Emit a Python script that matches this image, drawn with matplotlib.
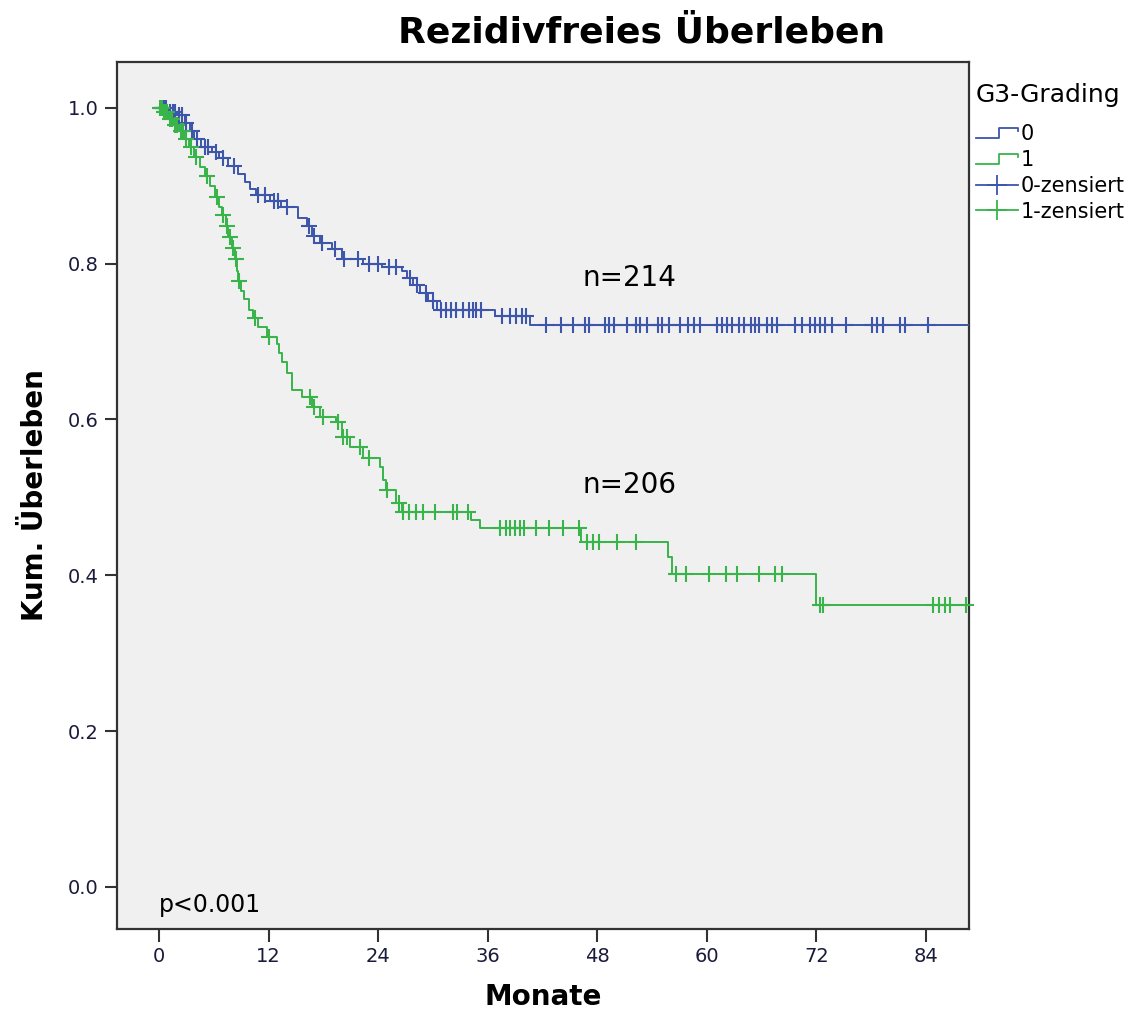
import matplotlib
matplotlib.use("Agg")
import matplotlib.pyplot as plt
from matplotlib.legend_handler import HandlerBase
from matplotlib.lines import Line2D
import numpy as np

# Kaplan-Meier steps (time in months, survival after the drop)
g0_event_t = [1.0, 2.0, 2.8, 3.4, 3.8, 4.6, 5.8, 6.6, 7.6, 8.6, 9.4, 10.0, 10.6, 12.2, 13.4,
              15.2, 16.2, 16.8, 17.6, 19.0, 20.0, 22.4, 24.4, 26.6, 27.2, 27.8, 28.6, 29.5,
              30.4, 36.8, 40.6]
g0_event_s = [0.995, 0.990, 0.980, 0.970, 0.960, 0.950, 0.943, 0.935, 0.925, 0.915, 0.905,
              0.895, 0.888, 0.880, 0.872, 0.858, 0.848, 0.835, 0.826, 0.818, 0.806, 0.800,
              0.795, 0.790, 0.781, 0.772, 0.762, 0.752, 0.741, 0.733, 0.721]
g0_censored = [0.2, 0.4, 0.6, 0.8, 1.2, 1.5, 1.8, 2.2, 2.5, 3.0, 3.6, 4.2, 5.0, 5.4, 6.2, 7.0,
               8.2, 10.8, 11.6, 12.6, 13.0, 14.0, 16.4, 17.0, 17.9, 19.3, 20.3, 21.8, 23.0,
               24.0, 25.2, 26.0, 27.5, 28.3, 29.2, 30.0, 30.9, 31.4, 32.0, 32.5, 33.3, 34.0,
               34.4, 34.7, 35.3, 37.6, 38.4, 39.1, 39.8, 40.2, 42.4, 44.0, 45.3, 46.7, 47.1,
               48.9, 49.3, 49.8, 51.3, 52.2, 52.7, 53.5, 54.7, 55.1, 55.9, 57.1, 57.9, 58.6,
               59.3, 61.1, 61.7, 62.2, 62.8, 63.5, 64.05, 64.8, 65.3, 65.7, 66.6, 67.1, 67.7,
               69.7, 70.4, 71.3, 71.9, 72.4, 73.0, 73.7, 75.3, 78.1, 78.6, 79.3, 81.2, 81.7,
               84.2]

g1_event_t = [0.5, 1.0, 1.6, 2.2, 2.8, 3.3, 3.8, 4.5, 5.0, 5.6, 6.1, 6.6, 6.9, 7.3, 7.6, 8.0,
              8.3, 8.5, 8.7, 9.0, 9.3, 9.9, 10.3, 10.8, 11.8, 12.9, 13.2, 13.5, 14.0, 14.6,
              15.7, 16.8, 17.6, 19.4, 20.1, 20.9, 22.3, 24.2, 24.5, 24.9, 26.0, 26.6, 34.2,
              35.2, 46.2, 55.8, 56.2, 72.0]
g1_event_s = [0.995, 0.985, 0.978, 0.970, 0.960, 0.950, 0.937, 0.924, 0.912, 0.900, 0.886,
              0.873, 0.862, 0.848, 0.834, 0.820, 0.806, 0.790, 0.778, 0.765, 0.754, 0.741,
              0.730, 0.718, 0.706, 0.697, 0.685, 0.673, 0.660, 0.638, 0.629, 0.616, 0.603,
              0.596, 0.578, 0.565, 0.551, 0.539, 0.522, 0.510, 0.493, 0.481, 0.471, 0.461,
              0.443, 0.424, 0.401, 0.362]
g1_censored = [0.1, 0.3, 0.5, 0.7, 0.9, 1.2, 1.4, 1.8, 2.0, 2.4, 2.6, 3.0, 3.5, 4.0, 5.3, 6.3,
               7.0, 7.4, 7.8, 8.1, 8.4, 8.8, 10.5, 12.0, 16.5, 17.0, 18.0, 19.6, 20.2, 20.6,
               22.0, 23.0, 25.0, 26.3, 26.7, 27.4, 28.2, 28.9, 30.2, 32.2, 32.6, 33.8, 37.4,
               38.0, 38.5, 39.0, 39.5, 40.0, 41.3, 42.7, 44.2, 46.0, 46.9, 47.5, 48.2, 50.2,
               52.3, 56.6, 57.7, 60.2, 62.1, 63.3, 65.7, 67.5, 68.2, 72.4, 72.7, 84.8, 85.4,
               86.1, 86.7, 88.4]

groups = ["0", "1"]
n_labels = ["n=214", "n=206"]
x_ticks = [0, 12, 24, 36, 48, 60, 72, 84]
y_ticks = [0.0, 0.2, 0.4, 0.6, 0.8, 1.0]

BLUE = "#3d55ab"
GREEN = "#38b44a"
X_MAX = 88.75


def km_curve(event_t, event_s):
    t = np.concatenate([[0.0], event_t, [X_MAX]])
    s = np.concatenate([[1.0], event_s, [event_s[-1]]])
    return t, s


def surv_at(times, event_t, event_s):
    idx = np.searchsorted(event_t, times, side="right")
    s = np.concatenate([[1.0], event_s])
    return s[idx]


class HandlerStep(HandlerBase):
    def create_artists(self, legend, orig_handle, xdescent, ydescent, width, height,
                       fontsize, trans):
        x0, y0 = -xdescent, -ydescent
        xs = [x0, x0 + 0.55 * width, x0 + 0.55 * width, x0 + width, x0 + width]
        ys = [y0 + 0.15 * height, y0 + 0.15 * height, y0 + 0.85 * height,
              y0 + 0.85 * height, y0 + 0.6 * height]
        line = Line2D(xs, ys, color=orig_handle.get_color(), lw=1.3, transform=trans)
        return [line]


fig = plt.figure(figsize=(11.47, 10.18), dpi=100)
ax = fig.add_axes([0.102, 0.0874, 0.743, 0.852])
ax.set_facecolor("#f0f0f0")

t0, s0 = km_curve(g0_event_t, g0_event_s)
t1, s1 = km_curve(g1_event_t, g1_event_s)
ln0, = ax.step(t0, s0, where="post", color=BLUE, lw=1.4, zorder=3)
ln1, = ax.step(t1, s1, where="post", color=GREEN, lw=1.4, zorder=3)

c0 = np.array(g0_censored)
c1 = np.array(g1_censored)
ax.plot(c0, surv_at(c0, g0_event_t, g0_event_s), ls="none", marker="+", ms=11, mew=1.5,
        color=BLUE, zorder=4, clip_on=False)
ax.plot(c1, surv_at(c1, g1_event_t, g1_event_s), ls="none", marker="+", ms=11, mew=1.5,
        color=GREEN, zorder=4, clip_on=False)

ax.set_xlim(-4.6, X_MAX)
ax.set_ylim(-0.054, 1.059)
ax.set_xticks(x_ticks)
ax.set_yticks(y_ticks)
ax.set_yticklabels([f"{v:.1f}" for v in y_ticks])
ax.tick_params(axis="both", direction="out", length=9, width=1.5, colors="#333333",
               labelsize=14, labelcolor="#1a1a3a", pad=4)
for sp in ax.spines.values():
    sp.set_color("#333333")
    sp.set_linewidth(1.6)

ax.set_xlabel("Monate", fontsize=20, fontweight="bold", labelpad=12)
ax.set_ylabel("Kum. Überleben", fontsize=20, fontweight="bold", labelpad=14)
fig.text(0.559, 0.968, "Rezidivfreies Überleben", fontsize=26, fontweight="bold",
         ha="center", va="center")

ax.text(46.4, 0.782, n_labels[0], fontsize=20, va="center", ha="left")
ax.text(46.4, 0.516, n_labels[1], fontsize=20, va="center", ha="left")
ax.text(0.0, -0.023, "p<0.001", fontsize=17, va="center", ha="left")

cens0 = Line2D([], [], color=BLUE, marker="+", ms=15, mew=1.3, lw=1.3)
cens1 = Line2D([], [], color=GREEN, marker="+", ms=15, mew=1.3, lw=1.3)
leg = ax.legend([ln0, ln1, cens0, cens1],
                [groups[0], groups[1], groups[0] + "-zensiert", groups[1] + "-zensiert"],
                handler_map={ln0: HandlerStep(), ln1: HandlerStep()},
                title="G3-Grading", title_fontsize=18, fontsize=15, frameon=False,
                loc="upper left", bbox_to_anchor=(0.851, 0.918),
                bbox_transform=fig.transFigure, handlelength=2.0, handletextpad=0.15,
                labelspacing=0.28, borderaxespad=0, borderpad=0)
leg._legend_box.align = "left"
leg._legend_box.sep = 12

fig.savefig("out.png", dpi=100)
